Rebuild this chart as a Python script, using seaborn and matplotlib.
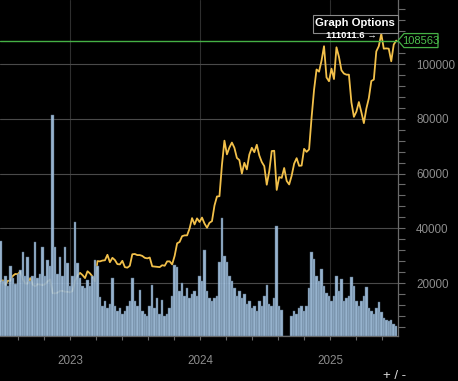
import pandas as pd
import matplotlib.pyplot as plt
import matplotlib.dates as mdates
from matplotlib.patches import Rectangle, Polygon
from matplotlib.ticker import MultipleLocator
import seaborn as sns

# weekly closes, starting 2022-06-19
start_date = "2022-06-19"
price = [
    20500, 21000, 19300, 20800, 20800, 22600, 23300, 23200, 24300, 21500,
    19800, 19800, 21800, 19400, 18800, 19600, 19400, 19200, 19600, 20600,
    21300, 16300, 16200, 16500, 17100, 17100, 16800, 16800, 16600, 17100,
    20900, 22700, 23700, 22900, 21800, 24300, 23500, 22400, 20600, 28000,
    27900, 28200, 28300, 30300, 27600, 29200, 28400, 26900, 26800, 28100,
    25800, 25600, 26300, 30500, 30600, 30200, 30200, 29900, 29200, 29000,
    29300, 26100, 26000, 25900, 25800, 26500, 26300, 27900, 27900, 26800,
    29900, 34500, 35000, 37100, 37400, 37400, 39900, 43700, 41400, 43600,
    42300, 43900, 41700, 40200, 42000, 42600, 48300, 51600, 51700, 63100,
    72000, 67000, 69500, 71300, 69400, 65700, 64900, 60000, 63900, 61500,
    66900, 69400, 67800, 70500, 66600, 64200, 62700, 55900, 60800, 68200,
    68300, 54000, 58700, 58400, 62000, 57300, 56000, 59200, 63600, 65600,
    62800, 62900, 69000, 67900, 68800, 80400, 90600, 98000, 97200, 101200,
    106500, 95100, 93700, 98300, 94500, 106100, 102600, 97700, 96500, 96100,
    96100, 86000, 80700, 82600, 86100, 82400, 78400, 83700, 87500, 93800,
    94300, 104600, 106500, 111011.6, 105600, 105700, 105600, 101000, 107100, 108563,
]
# weekly traded volume (bn USD)
volume = [
    47.5, 27.5, 30, 25, 35, 29, 26, 31, 33, 42,
    30, 39.5, 27.5, 30, 47, 29, 31, 44.5, 30, 38,
    35, 110.5, 44.5, 31, 39.5, 30, 44.5, 36.5, 25, 30,
    57, 36.5, 29, 25, 24, 28, 25, 30, 38, 35,
    19.5, 15, 17.5, 14, 16, 29, 15, 12.5, 14, 11,
    12.5, 15, 17.5, 29, 17.5, 15, 23, 12.5, 11, 10,
    15, 25.5, 14, 19, 11, 18, 10, 11, 14, 20,
    35.5, 34.5, 22.5, 26.5, 20, 24, 19, 21, 22.5, 20,
    30, 27.5, 43, 22.5, 19, 17.5, 19, 20, 37, 59,
    40, 37, 30, 27.5, 24, 20, 22.5, 19, 21, 16,
    17.5, 14, 15, 12.5, 17.5, 15, 20, 25.5, 16, 15,
    19, 55, 15, 13, 0, 0, 0, 10, 12.5, 11,
    14, 15, 12.5, 15, 24, 42, 38.5, 30, 27.5, 33.5,
    25, 21.5, 20, 17.5, 20, 30, 22.5, 28.5, 17.5, 19,
    20, 29.5, 25, 17.5, 15, 17.5, 20, 24.5, 14, 12.5,
    11, 14, 17, 12, 9, 8, 7.5, 8, 6, 5,
]
year_ticks = ["2023", "2024", "2025"]
price_ticks = [20000, 40000, 60000, 80000, 100000]
last_price = price[-1]
high_price = max(price)

dates = pd.date_range(start_date, periods=len(price), freq="7D")
df = pd.DataFrame({"date": dates, "price": price, "volume": volume})

sns.set_style("dark", {"axes.facecolor": "black", "figure.facecolor": "black"})
plt.rcParams["font.family"] = ["Liberation Sans", "DejaVu Sans"]

W, H = 458, 381
fig = plt.figure(figsize=(W / 100, H / 100), dpi=100, facecolor="black")
ax = fig.add_axes([0, 45 / H, 398 / W, 336 / H])
ax.set_facecolor("black")
ax2 = ax.twinx()

# price line
sns.lineplot(data=df, x="date", y="price", ax=ax, color="#f2c04a", lw=1.3)

# volume bars on the hidden twin axis, drawn over the line
ax2.bar(df["date"], df["volume"], width=7, color="#adcdec", alpha=0.88,
        edgecolor="#52687f", lw=0.35)

x_min, x_max = pd.Timestamp("2022-06-18"), pd.Timestamp("2025-07-11")
ax.set_xlabel("")
ax.set_ylabel("")

ax.yaxis.tick_right()
ax.set_yticks(price_ticks)
ax.yaxis.set_minor_locator(MultipleLocator(4000))
ax.tick_params(axis="y", which="both", right=True, left=False, labelright=True,
               labelleft=False, color="#6a6a6a", labelcolor="#8c8c8c",
               labelsize=8.4, length=5, pad=8, width=0.8)
ax2.set_yticks([])
ax2.tick_params(axis="y", which="both", right=False, labelright=False)
for side in ax2.spines:
    ax2.spines[side].set_visible(False)

year_pos = [pd.Timestamp(f"{y}-01-01") for y in year_ticks]
ax.set_xticks(year_pos)
ax.set_xticklabels(year_ticks)
minor_pos = [pd.Timestamp(f"{y}-01-01") + pd.Timedelta(days=73 * k)
             for y in range(2022, 2026) for k in range(5)]
minor_pos = [d for d in minor_pos if x_min <= d <= x_max]
ax.set_xticks(minor_pos, minor=True)
ax.tick_params(axis="x", which="both", bottom=True, color="#6a6a6a",
               labelcolor="#8c8c8c", labelsize=8.4, length=3, pad=11, width=0.8)

# limits last, after the ticks are placed
ax.set_xlim(x_min, x_max)
ax2.set_xlim(x_min, x_max)
ax.set_ylim(640, 123380)
ax2.set_ylim(0, 168)

ax.grid(axis="y", which="major", color="#4a4a4a", lw=0.8)
ax.grid(axis="x", which="major", color="#2e2e2e", lw=0.8)
ax.grid(which="minor", visible=False)
ax.set_axisbelow(True)

for side in ["left", "top"]:
    ax.spines[side].set_visible(False)
for side in ["right", "bottom"]:
    ax.spines[side].set_visible(True)
    ax.spines[side].set_color("#6a6a6a")
    ax.spines[side].set_linewidth(0.9)

# last price marker: line plus a tag pointing at the axis
ax.axhline(last_price, color="#45b045", lw=1, zorder=5)
tag_y = ax.transData.transform((0, last_price))[1]
tag = [(398, tag_y), (404, tag_y + 7), (438, tag_y + 7), (438, tag_y - 7), (404, tag_y - 7)]
ax2.add_patch(Polygon([(x / W, y / H) for x, y in [(px, py * H / fig.bbox.height) for px, py in tag]],
                      closed=True, transform=fig.transFigure, fc="black",
                      ec="#45b045", lw=0.9, zorder=10, clip_on=False))
ax2.text(421 / W, tag_y / fig.bbox.height, f"{last_price:.0f}", transform=fig.transFigure,
         ha="center", va="center", color="#4cc04c", fontsize=8, zorder=11, clip_on=False)

# graph options box, on the top axes so the high label can sit over it
ax2.add_patch(Rectangle((313 / W, 1 - 33 / H), 85 / W, 18 / H,
                        transform=fig.transFigure, fc="black", ec="#8a8a8a",
                        lw=0.8, zorder=10, clip_on=False))
ax2.text(355 / W, 1 - 23 / H, "Graph Options", transform=fig.transFigure,
         ha="center", va="center", color="white", fontsize=8.2,
         fontweight="bold", zorder=11, clip_on=False)

# high marker
peak_date = df.loc[df["price"].idxmax(), "date"]
ax2.annotate(f"{high_price} \u2192", xy=(mdates.date2num(peak_date), high_price),
             xycoords=ax.transData, xytext=(-3, -1), textcoords="offset points",
             ha="right", va="center", color="white", fontsize=6.8,
             fontweight="bold", zorder=12, annotation_clip=False)

fig.text(395 / W, 5 / H, "+ / -", ha="center", va="center",
         color="#dddddd", fontsize=9.5)

fig.savefig("out.png", dpi=100, facecolor="black")
